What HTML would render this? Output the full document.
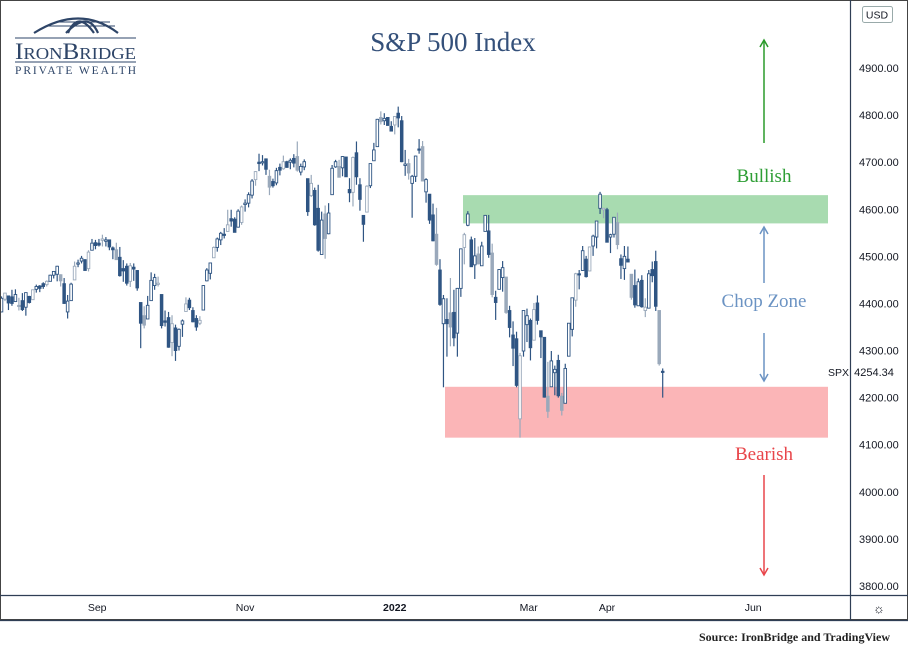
<!DOCTYPE html>
<html><head><meta charset="utf-8">
<style>
html,body{margin:0;padding:0;background:#fff;}
body{width:908px;height:655px;overflow:hidden;position:relative;font-family:"Liberation Sans",sans-serif;}
svg{position:absolute;left:0;top:0;}
</style></head>
<body>
<svg id="chart" width="908" height="655" viewBox="0 0 908 655" xmlns="http://www.w3.org/2000/svg">
  <rect x="0" y="0" width="908" height="655" fill="#fff"/>
  <g id="bands"></g>
  <g id="candles"></g>
  <g id="annot"></g>
  <g id="axes"></g>
</svg>
<script>
const opens=[4382,4409,4416,4414,4404,4396,
4406,4392,4415,4408,4430,4437,4442,4440,4447,4460,4462,4461,4442,4382,4406,4450,4484,4490,4493,4474,4513,4529,
4528,4534,4532,4535,4518,4514,4498,4474,4479,4447,4477,4470,4402,4374,4367,4406,4438,4442,4419,4363,4370,
4317,4348,4309,4356,4383,4407,4385,4368,4358,4386,4448,4464,4497,4519,4535,4547,4553,4580,4579,4562,4572,
4610,4613,4630,4663,4700,4701,4707,4670,4659,4656,4689,4686,4701,4700,4708,4712,4679,4690,4665,4629,4640,
4602,4504,4590,4548,4631,4690,4691,4688,4711,4642,4636,4720,4652,4587,4594,4650,4703,4733,4795,4788,4795,4776,
4779,4804,4788,4693,4697,4655,4670,4728,4733,4637,4632,4588,4547,4471,4357,4366,4380,4381,4337,4432,
4519,4566,4535,4482,4505,4480,4553,4554,4507,4413,4430,4455,4456,4385,4333,4325,4155,4299,4355,
4364,4322,4401,4342,4328,4203,4223,4253,4279,4203,4188,4288,4345,4407,4463,4470,4494,4469,4522,4541,4602,4599,4599,
4541,4547,4572,4495,4474,4494,4462,4438,4395,4449,4385,4390,4472,4489,4385,4256];
const highs=[4415,4422,4416,4429,4430,4412,
4422,4423,4416,4429,4440,4439,4445,4449,4461,4468,4480,4462,4454,4418,4444,4489,4493,4501,4494,4513,4537,4535,
4537,4546,4541,4535,4521,4529,4520,4492,4485,4486,4485,4471,4402,4394,4416,4466,4463,4457,4419,4385,4382,
4375,4355,4347,4366,4413,4412,4392,4375,4373,4439,4475,4487,4521,4540,4552,4560,4599,4599,4583,4600,4608,
4621,4636,4664,4681,4718,4715,4708,4684,4665,4688,4697,4714,4703,4708,4717,4744,4697,4706,4665,4673,4646,
4652,4595,4608,4613,4694,4705,4705,4713,4711,4666,4712,4744,4666,4587,4651,4697,4741,4792,4808,4804,4791,4787,
4797,4818,4798,4726,4707,4673,4714,4749,4745,4666,4632,4612,4603,4494,4418,4411,4454,4429,4433,4516,
4550,4596,4542,4539,4521,4531,4588,4588,4527,4427,4473,4490,4456,4395,4362,4340,4295,4385,4389,
4368,4401,4417,4342,4328,4276,4299,4268,4291,4210,4272,4358,4412,4465,4471,4522,4501,4521,4546,4575,4637,4603,4603,
4548,4583,4593,4504,4522,4521,4462,4472,4453,4460,4411,4471,4489,4512,4385,4262];
const lows=[4381,4405,4386,4395,4403,4385,
4384,4374,4400,4408,4423,4424,4431,4436,4447,4453,4447,4436,4399,4368,4406,4450,4477,4485,4470,4468,4513,4515,
4521,4521,4521,4513,4494,4493,4457,4446,4438,4435,4448,4427,4305,4347,4367,4406,4429,4436,4347,4351,4306,
4288,4278,4300,4329,4383,4386,4360,4342,4354,4386,4447,4451,4497,4510,4524,4538,4553,4563,4551,4561,4567,
4595,4604,4623,4650,4681,4693,4673,4630,4646,4651,4672,4684,4688,4685,4689,4680,4672,4683,4586,4626,4565,
4510,4504,4495,4547,4631,4688,4668,4670,4669,4615,4606,4652,4597,4531,4594,4645,4703,4733,4780,4779,4778,4766,
4759,4774,4700,4671,4663,4582,4658,4718,4660,4614,4569,4532,4480,4395,4222,4287,4309,4309,4287,4414,
4483,4564,4478,4452,4483,4480,4553,4497,4413,4365,4430,4425,4378,4328,4267,4222,4115,4287,4318,
4279,4322,4355,4284,4200,4157,4223,4205,4200,4162,4188,4288,4330,4393,4430,4469,4455,4469,4501,4517,4590,4581,4530,
4507,4540,4515,4452,4450,4488,4408,4391,4395,4391,4371,4390,4445,4384,4268,4200];
const closes=[4411,4422,4401,4400,4419,4395,
4387,4423,4402,4429,4436,4432,4436,4447,4460,4468,4479,4448,4400,4405,4441,4479,4486,4496,4470,4509,4528,4523,
4524,4537,4535,4520,4514,4493,4459,4469,4443,4480,4473,4433,4358,4354,4396,4449,4455,4443,4353,4360,4307,
4357,4300,4345,4363,4399,4391,4361,4350,4364,4438,4471,4486,4519,4537,4549,4545,4567,4575,4551,4596,4605,
4613,4631,4660,4680,4697,4701,4685,4647,4650,4682,4683,4701,4689,4704,4698,4683,4691,4701,4595,4655,4567,
4513,4577,4538,4592,4687,4701,4668,4712,4669,4635,4710,4669,4621,4568,4649,4697,4726,4791,4786,4793,4778,4766,
4797,4794,4701,4696,4677,4670,4713,4726,4660,4663,4577,4533,4483,4398,4410,4357,4350,4327,4432,4516,
4546,4590,4478,4501,4484,4522,4587,4504,4419,4402,4472,4476,4381,4349,4305,4226,4289,4385,4374,
4306,4387,4364,4329,4201,4171,4278,4260,4204,4173,4262,4358,4412,4463,4461,4512,4457,4520,4543,4575,4632,4602,4530,
4546,4583,4525,4481,4500,4488,4413,4397,4446,4393,4392,4463,4459,4394,4272,4254];
const priceTicks=[4900,4800,4700,4600,4500,4400,4300,4200,4100,4000,3900,3800];
const monthLabels=["Sep","Nov","2022","Mar","Apr","Jun"];
const monthIdx=[27.5,70,113,151.5,174,216];
const bullBand=[4570,4630], bearBand=[4115,4223];
const lastPrice=4254.34;

const NS="http://www.w3.org/2000/svg";
const yS=p=>68+(4900-p)*0.4709;
const xS=i=>1.5+i*3.48;
function mk(tag,attrs,parent,txt){const e=document.createElementNS(NS,tag);for(const k in attrs)e.setAttribute(k,attrs[k]);if(txt!==undefined)e.textContent=txt;parent.appendChild(e);return e;}

const bands=document.getElementById('bands');
let g=mk('rect',{x:463,y:yS(bullBand[1]),width:365,height:yS(bullBand[0])-yS(bullBand[1]),fill:'#a8dbb0'},bands);


let r=mk('rect',{x:445,y:yS(bearBand[1]),width:383,height:yS(bearBand[0])-yS(bearBand[1]),fill:'#fbb5b7'},bands);



const cg=document.getElementById('candles');
for(let i=0;i<closes.length;i++){
  const x=xS(i),o=opens[i],c=closes[i];
  const up=c>=o, col=(i%4===1)?'#9aa9bb':'#2f5583';
  const gg=mk('g',{},cg);
  
  
  mk('line',{x1:x,x2:x,y1:yS(highs[i]),y2:yS(lows[i]),stroke:col,'stroke-width':1.2},gg);
  const top=yS(Math.max(o,c)),h=Math.max(1.2,Math.abs(yS(o)-yS(c)));
  mk('rect',{x:x-1.3,y:top,width:2.6,height:h,fill:up?'#fff':col,stroke:col,'stroke-width':0.9},gg);
}

const ax=document.getElementById('axes');
mk('rect',{x:0.5,y:0.5,width:907,height:619,fill:'none',stroke:'#444','stroke-width':1},ax);
mk('line',{x1:850.5,x2:850.5,y1:0,y2:620,stroke:'#2f3e55','stroke-width':1.2},ax);
mk('line',{x1:0,x2:908,y1:595.5,y2:595.5,stroke:'#2f3e55','stroke-width':1.2},ax);
mk('line',{x1:0,x2:908,y1:620.5,y2:620.5,stroke:'#2f3e55','stroke-width':1.2},ax);
priceTicks.forEach(p=>{const t=mk('text',{x:859,y:yS(p)+4,'font-size':11,fill:'#131722','font-family':'Liberation Sans, sans-serif'},ax,p.toFixed(2));

});
monthLabels.forEach((m,k)=>{const t=mk('text',{x:xS(monthIdx[k]),y:611,'font-size':10.5,fill:'#131722','text-anchor':'middle','font-weight':m==='2022'?'bold':'normal','font-family':'Liberation Sans, sans-serif'},ax,m);

});
let pl=mk('text',{x:874,y:yS(lastPrice)+4,'font-size':11,fill:'#131722','text-anchor':'middle'},ax,lastPrice.toFixed(2));


let sp=mk('text',{x:828,y:yS(lastPrice)+4,'font-size':10.5,fill:'#131722'},ax,'SPX');


let ub=mk('rect',{x:862.5,y:6.5,width:30,height:16,fill:'#fff',stroke:'#9aa','stroke-width':1,rx:2},ax);


mk('text',{x:877,y:18.5,'font-size':10.5,fill:'#131722','text-anchor':'middle'},ax,'USD');
let gear=mk('text',{x:879,y:613,'font-size':13,fill:'#131722','text-anchor':'middle'},ax,'☼');


let src=mk('text',{x:890,y:641,'font-size':12,'font-weight':'bold',fill:'#222','text-anchor':'end','font-family':'Liberation Serif, serif'},ax,'Source: IronBridge and TradingView');



const an=document.getElementById('annot');
let ti=mk('text',{x:453,y:51,'font-size':27,fill:'#34507a','text-anchor':'middle','font-family':'Liberation Serif, serif'},an,'S&P 500 Index');


function lbl(t,y,col,name){const e=mk('text',{x:764,y:y,'font-size':19,fill:col,'text-anchor':'middle','font-family':'Liberation Serif, serif'},an,t);

}
lbl('Bullish',182,'#2e9e35','bullish-label');
lbl('Chop Zone',307,'#6b93c3','chop-zone-label');
lbl('Bearish',460,'#e8454a','bearish-label');
function arrow(y1,y2,col,name){const d=y2<y1?-1:1;const a=mk('g',{},an);


mk('line',{x1:764,x2:764,y1:y1,y2:y2,stroke:col,'stroke-width':1.5},a);
mk('path',{d:`M760 ${y2-d*7} L764 ${y2} L768 ${y2-d*7}`,fill:'none',stroke:col,'stroke-width':1.5},a);}
arrow(143,40,'#2a9a2a','bullish-arrow');
arrow(283,227,'#6b93c3','chop-up-arrow');
arrow(333,381,'#6b93c3','chop-down-arrow');
arrow(475,575,'#e8454a','bearish-arrow');

// logo
const lg=mk('g',{},an);


mk('path',{d:'M34 33 Q80 4 118 33 M66 33 Q88 10 98 33 M68 33 Q78 10 94 33',fill:'none',stroke:'#2e4568','stroke-width':2.2},lg);
mk('line',{x1:55,x2:110,y1:22,y2:22,stroke:'#2e4568','stroke-width':1},lg);
mk('line',{x1:48,x2:115,y1:26,y2:26,stroke:'#2e4568','stroke-width':1},lg);
mk('line',{x1:15,x2:136,y1:38,y2:38,stroke:'#2e4568','stroke-width':1},lg);
mk('line',{x1:15,x2:136,y1:62,y2:62,stroke:'#2e4568','stroke-width':1},lg);
const lt=mk('text',{x:15,y:59,'font-size':17,fill:'#2e4568','font-family':'Liberation Serif, serif',textLength:121,lengthAdjust:'spacingAndGlyphs'},lg);
mk('tspan',{'font-size':23},lt,'I');
mk('tspan',{},lt,'RON');
mk('tspan',{'font-size':23},lt,'B');
mk('tspan',{},lt,'RIDGE');
mk('text',{x:15,y:74,'font-size':11.5,fill:'#2e4568','font-family':'Liberation Serif, serif',textLength:121,lengthAdjust:'spacing'},lg,'PRIVATE WEALTH');
</script>
</body></html>
